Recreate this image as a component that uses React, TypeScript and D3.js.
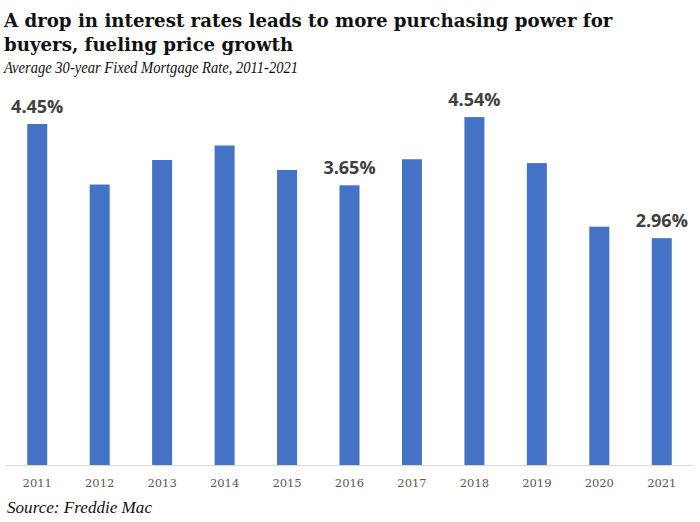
import { useEffect, useRef } from "react";
import * as d3 from "d3";

const years = ["2011", "2012", "2013", "2014", "2015", "2016", "2017", "2018", "2019", "2020", "2021"];
const rates = [4.45, 3.66, 3.98, 4.17, 3.85, 3.65, 3.99, 4.54, 3.94, 3.11, 2.96];
const labeledYears = ["2011", "2016", "2018", "2021"];

export default function App() {
  const svgRef = useRef<SVGSVGElement | null>(null);

  useEffect(() => {
    if (!svgRef.current) return;
    const width = 700;
    const height = 522;
    const baseline = 465;

    const svg = d3.select(svgRef.current);
    svg.selectAll("*").remove();
    svg.attr("width", width).attr("height", height);

    svg.append("rect").attr("width", width).attr("height", height).attr("fill", "#fff");

    const x = d3.scaleBand().domain(years).range([6, 693]).paddingInner(0.68).paddingOuter(0.34);
    const y = d3.scaleLinear().domain([0, 4.45]).range([baseline, 124]);

    // Titles
    const title = svg.append("text")
      .attr("font-family", "'DejaVu Serif', serif")
      .attr("font-weight", "bold")
      .attr("font-size", 18.2)
      .attr("fill", "#111");
    title.append("tspan").attr("x", 4).attr("y", 27).text("A drop in interest rates leads to more purchasing power for");
    title.append("tspan").attr("x", 4).attr("y", 51).text("buyers, fueling price growth");

    svg.append("text")
      .attr("x", 4).attr("y", 73)
      .attr("font-family", "'Liberation Serif', serif")
      .attr("font-style", "italic")
      .attr("font-size", 16.5)
      .attr("fill", "#111")
      .attr("textLength", 294)
      .attr("lengthAdjust", "spacingAndGlyphs")
      .text("Average 30-year Fixed Mortgage Rate, 2011-2021");

    // Bars
    svg.selectAll("rect.bar")
      .data(rates)
      .enter()
      .append("rect")
      .attr("class", "bar")
      .attr("x", (_, i) => x(years[i])!)
      .attr("width", x.bandwidth())
      .attr("y", (d) => y(d))
      .attr("height", (d) => baseline - y(d))
      .attr("fill", "#4472C4");

    // Baseline
    svg.append("line")
      .attr("x1", 6).attr("x2", 693)
      .attr("y1", baseline + 0.5).attr("y2", baseline + 0.5)
      .attr("stroke", "#d9d9d9")
      .attr("stroke-width", 1);

    // Value labels
    svg.selectAll("text.val")
      .data(years.map((yr, i) => ({ yr, v: rates[i] })).filter((d) => labeledYears.includes(d.yr)))
      .enter()
      .append("text")
      .attr("class", "val")
      .attr("x", (d) => x(d.yr)! + x.bandwidth() / 2)
      .attr("y", (d) => y(d.v) - 11)
      .attr("text-anchor", "middle")
      .attr("font-family", "'Open Sans', 'DejaVu Sans', sans-serif")
      .attr("font-weight", "bold")
      .attr("font-size", 18)
      .attr("fill", "#404040")
      .text((d) => d.v.toFixed(2) + "%");

    // Year labels
    svg.selectAll("text.yr")
      .data(years)
      .enter()
      .append("text")
      .attr("class", "yr")
      .attr("x", (d) => x(d)! + x.bandwidth() / 2)
      .attr("y", 487)
      .attr("text-anchor", "middle")
      .attr("font-family", "'DejaVu Serif', serif")
      .attr("font-size", 11.5)
      .attr("fill", "#595959")
      .text((d) => d);

    svg.append("text")
      .attr("x", 7).attr("y", 513)
      .attr("font-family", "'Liberation Serif', serif")
      .attr("font-style", "italic")
      .attr("font-size", 16.5)
      .attr("fill", "#111")
      .attr("textLength", 145)
      .attr("lengthAdjust", "spacingAndGlyphs")
      .text("Source: Freddie Mac");
  }, []);

  return <svg ref={svgRef} style={{ position: "absolute", left: 0, top: 0 }} />;
}
